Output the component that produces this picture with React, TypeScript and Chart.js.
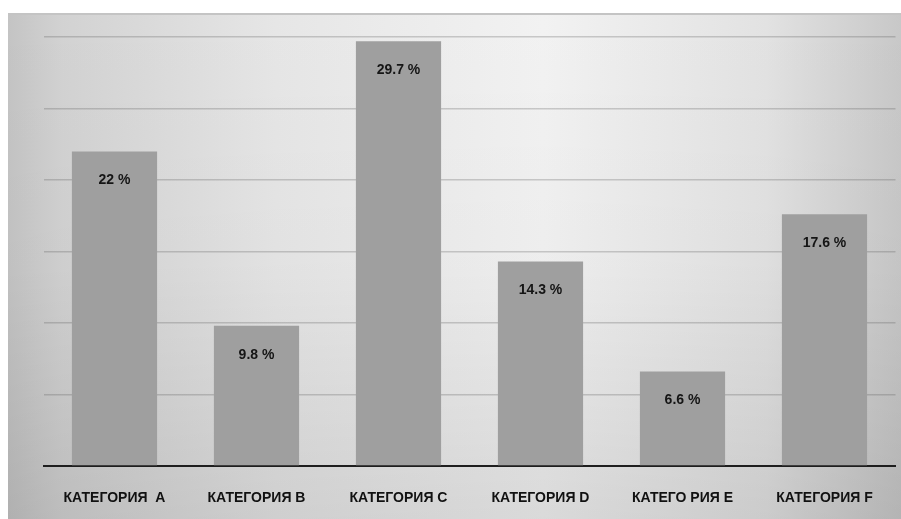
import React, { useEffect, useRef } from "react";
import { Chart, registerables } from "chart.js";

Chart.register(...registerables);

const categories = ["КАТЕГОРИЯ  А", "КАТЕГОРИЯ B", "КАТЕГОРИЯ C", "КАТЕГОРИЯ D", "КАТЕГО РИЯ E", "КАТЕГОРИЯ F"];
const values = [22, 9.8, 29.7, 14.3, 6.6, 17.6];
const valueLabels = ["22 %", "9.8 %", "29.7 %", "14.3 %", "6.6 %", "17.6 %"];
const yMax = 30;
const yStep = 5;

const W = 901;
const H = 519;

const backgroundPlugin = {
  id: "panelBg",
  beforeDraw(chart: any) {
    const ctx = chart.ctx;
    ctx.save();
    ctx.fillStyle = "#ffffff";
    ctx.fillRect(0, 0, W, H);
    const x0 = 8, y0 = 13;
    const g = ctx.createLinearGradient(x0, 0, W, 0);
    g.addColorStop(0, "#c4c4c4");
    g.addColorStop(0.06, "#d2d2d2");
    g.addColorStop(0.3, "#e6e6e6");
    g.addColorStop(0.6, "#f2f2f2");
    g.addColorStop(0.85, "#e2e2e2");
    g.addColorStop(1, "#c8c8c8");
    ctx.fillStyle = g;
    ctx.fillRect(x0, y0, W - x0, H - y0);
    const v = ctx.createLinearGradient(0, y0, 0, H);
    v.addColorStop(0, "rgba(0,0,0,0)");
    v.addColorStop(0.5, "rgba(0,0,0,0.02)");
    v.addColorStop(1, "rgba(0,0,0,0.1)");
    ctx.fillStyle = v;
    ctx.fillRect(x0, y0, W - x0, H - y0);
    ctx.fillStyle = "#c4c4c4";
    ctx.fillRect(x0, y0, W - x0, 2);
    ctx.restore();
  },
};

const labelPlugin = {
  id: "valueLabels",
  afterDraw(chart: any) {
    const ctx = chart.ctx;
    const meta = chart.getDatasetMeta(0);
    ctx.save();
    ctx.font = "bold 14px 'Liberation Sans', Arial, sans-serif";
    ctx.fillStyle = "#151515";
    ctx.textAlign = "center";
    ctx.textBaseline = "middle";
    meta.data.forEach((bar: any, i: number) => {
      ctx.fillText(valueLabels[i], bar.x, bar.y + 29);
    });
    ctx.restore();
  },
};

export default function App() {
  const ref = useRef<HTMLCanvasElement>(null);
  useEffect(() => {
    if (!ref.current) return;
    const chart = new Chart(ref.current, {
      type: "bar",
      data: {
        labels: categories,
        datasets: [
          {
            data: values,
            backgroundColor: "#9f9f9f",
            borderWidth: 0,
            barPercentage: 0.6,
            categoryPercentage: 1,
          },
        ],
      },
      options: {
        responsive: false,
        animation: false,
        devicePixelRatio: 1,
        layout: { padding: { left: 43.5, right: 5.5, top: 37, bottom: 0 } },
        plugins: { legend: { display: false }, tooltip: { enabled: false } },
        scales: {
          x: {
            grid: { display: false },
            border: { display: true, color: "#1e1e1e", width: 2 },
            ticks: {
              color: "#111111",
              font: { family: "'Liberation Sans', Arial, sans-serif", weight: "bold", size: 14 },
              padding: 16,
              maxRotation: 0,
              autoSkip: false,
            },
            afterFit(scale: any) {
              scale.height = 53;
            },
          },
          y: {
            min: 0,
            max: yMax,
            z: 1,
            ticks: { display: false, stepSize: yStep },
            border: { display: false },
            grid: {
              color: (c: any) => (c.tick && c.tick.value === 0 ? "rgba(0,0,0,0)" : "rgba(90,90,90,0.28)"),
              lineWidth: 1.5,
              drawTicks: false,
            },
            afterFit(scale: any) {
              scale.width = 0;
            },
          },
        },
      },
      plugins: [backgroundPlugin, labelPlugin],
    });
    return () => chart.destroy();
  }, []);
  return (
    <div style={{ position: "absolute", left: 0, top: 0, width: W, height: H }}>
      <canvas ref={ref} width={W} height={H} style={{ display: "block" }} />
    </div>
  );
}
